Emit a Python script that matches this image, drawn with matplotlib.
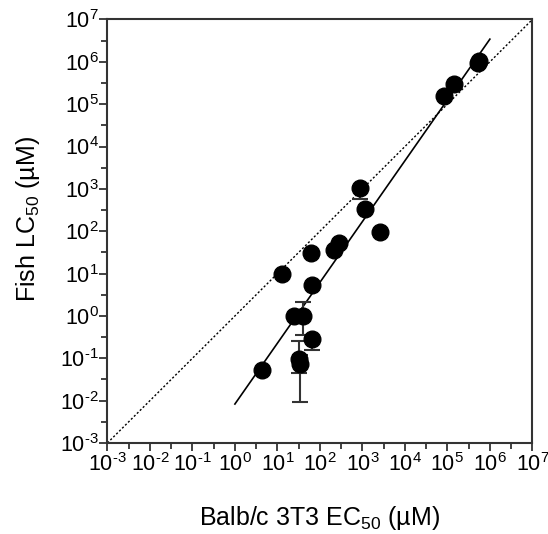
"""Fish LC50 vs Balb/c 3T3 EC50, log-log with regression and line of identity."""
import matplotlib
matplotlib.use('Agg')
import matplotlib.pyplot as plt
import matplotlib.ticker as mticker
import numpy as np

plt.rcParams.update({
    'font.family': ['Liberation Sans', 'DejaVu Sans'],
    'mathtext.fontset': 'custom',
    'mathtext.rm': 'Liberation Sans',
    'mathtext.it': 'Liberation Sans',
    'mathtext.default': 'regular',
})

# Balb/c 3T3 EC50 (uM) and fish LC50 (uM)
ec50 = [4.4, 13, 25, 41, 66, 33, 34, 900, 1170, 2640, 280, 220, 62, 65,
        8.2e4, 1.4e5, 5.2e5, 5.5e5]
lc50 = [0.053, 10, 1.0, 1.0, 0.28, 0.095, 0.074, 1030, 330, 94, 54, 36, 31, 5.4,
        1.55e5, 2.95e5, 9.5e5, 1.05e6]
# error bar extents (absolute values), None = no bar
err_lo = [None, None, None, 0.36, 0.16, 0.046, 0.0095, 575, None, None, None, None, None, None,
          None, None, None, None]
err_hi = [None, None, None, 2.1, 0.32, 0.25, 0.12, 1200, None, None, None, None, None, None,
          None, None, None, None]

# regression line log10(y) = slope*log10(x) + icpt
fit_slope = 1.436
fit_icpt = -2.08
fit_range = [1.0, 1e6]

fig = plt.figure(figsize=(5.48, 5.34), dpi=100)
ax = fig.add_axes([0.196, 0.1704, 0.7755, 0.7931])

# line of identity
ax.plot([1e-3, 1e7], [1e-3, 1e7], ls=(0, (1.5, 1.5)), color='black', lw=1.0, zorder=2)

# regression line
fx = np.logspace(np.log10(fit_range[0]), np.log10(fit_range[1]), 50)
ax.plot(fx, 10 ** (fit_slope * np.log10(fx) + fit_icpt), color='black', lw=1.2, zorder=2)

# error bars
for x, y, lo, hi in zip(ec50, lc50, err_lo, err_hi):
    if lo is None:
        continue
    ax.errorbar([x], [y], yerr=[[y - lo], [hi - y]], fmt='none', ecolor='#333333',
                elinewidth=1.5, capsize=6, capthick=1.5, zorder=3)

ax.plot(ec50, lc50, 'o', color='black', ms=12, mec='black', zorder=4)

ax.set_xscale('log')
ax.set_yscale('log')
ax.set_xlim(1e-3, 1e7)
ax.set_ylim(1e-3, 1e7)

decades = np.arange(-3, 8)


def dec_label(v, pos):
    e = int(round(np.log10(v)))
    if e < 0:
        return r'$10^{\text{-}%d}$' % (-e)
    return r'$10^{%d}$' % e


minors = 10.0 ** (decades[:-1] + 0.5)
for axis in (ax.xaxis, ax.yaxis):
    axis.set_major_locator(mticker.FixedLocator(10.0 ** decades))
    axis.set_minor_locator(mticker.FixedLocator(minors))
    axis.set_major_formatter(mticker.FuncFormatter(dec_label))
    axis.set_minor_formatter(mticker.NullFormatter())

ax.tick_params(which='major', direction='out', length=6, width=1.3, labelsize=15.5,
               color='#333333', pad=1)
ax.tick_params(which='minor', direction='out', length=4, width=1.3, color='#333333')
ax.tick_params(axis='y', pad=0)
for s in ax.spines.values():
    s.set_linewidth(1.5)
    s.set_color('#333333')

ax.set_xlabel(r'Balb/c 3T3 EC$_{50}$ (µM)', fontsize=18)
ax.set_ylabel(r'Fish LC$_{50}$ (µM)', fontsize=18)
ax.xaxis.set_label_coords(0.5, -0.145)
ax.yaxis.set_label_coords(-0.155, 0.53)

fig.savefig('out.png', dpi=100, facecolor='white')
